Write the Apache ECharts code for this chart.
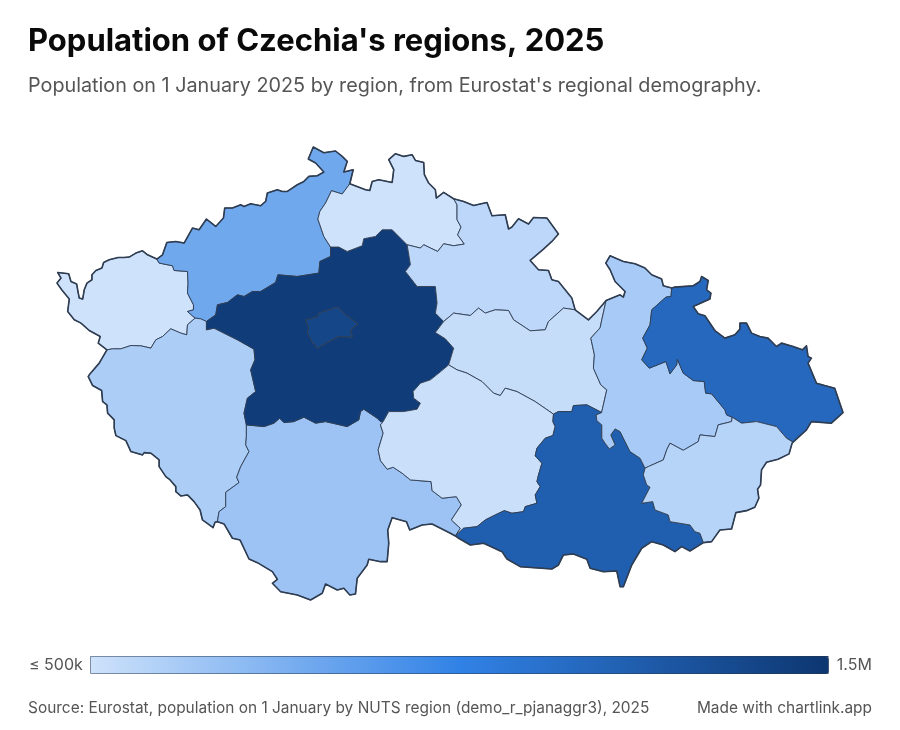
<!DOCTYPE html>
<html><head><meta charset="utf-8">
<style>html,body{margin:0;padding:0;background:#fff}#c{width:900px;height:730px}</style>
<script src="https://cdn.jsdelivr.net/npm/echarts@6/dist/echarts.min.js"></script>
</head><body><div id="c"></div>
<script>
// Data
const regionNames = ["Karlovarský","Ústecký","Plzeňský","Jihočeský","Středočeský","Praha","Liberecký","Královéhradecký","Pardubický","Vysočina","Jihomoravský","Olomoucký","Moravskoslezský","Zlínský"];
const regionValues = [295000,800000,610000,660000,1456000,1398000,449000,556000,527000,516000,1230000,625000,1170000,577000];
const legendLabels = ["1.5M","≤ 500k"];
const scaleMin = 500000, scaleMax = 1500000;
const rampColors = ["#cee2fb","#3182e6","#0d3670"];

// Region borders (shared arcs, trace units)
const kvOuter=[[156,259.3],[146.7,255],[141.7,251],[135,253.3],[128.3,257.3],[123.3,257.7],[117.3,257.7],[108.3,260],[102.7,262.7],[101,268.3],[95,270.7],[91,275],[91,280],[86,283.3],[83.3,290],[81.7,299.3],[78.3,298.3],[76.7,290],[75.7,284.3],[70,281.7],[67.7,274],[56.7,272.7],[60,278.3],[56,283.3],[60.7,290],[68.3,299.3],[66.7,311.7],[73.3,320],[80,323.3],[88.3,330.7],[99.3,336.7],[97.3,343.3],[106,350]];
const kvPl=[[106,350],[111.7,349],[120,349],[130,345.7],[140,346],[150,348.3],[155,340],[161.7,336.7],[170,329],[180,333.3],[186,335],[186.7,325],[194.3,318.3]];
const kvUs=[[156,259.3],[158.3,263.3],[171.7,266],[173.3,270.7],[186.7,271.7],[187.3,283.3],[186.7,293.3],[192.7,305],[192.7,310],[186.7,311.7],[194.3,318.3]];
const usOuter=[[156,259.3],[161.7,255],[166,242.7],[175,241.7],[183.3,243.3],[191.7,228.3],[198.3,230],[205.7,219.3],[215,226.7],[222.7,218.3],[224,208.3],[231.7,208.3],[240,205],[243.3,206.7],[250,204],[260,206],[265,201.7],[266.7,193.3],[276.7,190],[281.7,191.7],[286.7,191.7],[296.7,185],[303.3,181.7],[308.3,176.7],[316.7,176],[323.3,172.3],[315,163.3],[307.7,159.3],[312.7,147.3],[323.3,153],[335,151.3],[341.7,156.7],[346.7,161.7],[343.3,172.3],[352.7,170],[349.3,184]];
const usLi=[[349.3,184],[341.7,194.3],[331,191],[325,203.3],[319.3,211.7],[317.3,219.3],[323.3,236.7],[330,247.3]];
const usCe=[[330,247.3],[330,256.7],[319.3,261.7],[318.3,273.3],[296.7,276.7],[277.3,275],[275,282.7],[260,291.7],[251.7,291.7],[243.3,296.7],[236.7,295],[226.7,302.7],[216.7,305],[215,315],[205.7,321.7]];
const usPl=[[194.3,318.3],[200,319],[205.7,321.7]];
const plCe=[[205.7,321.7],[205.7,330],[213.3,328.3],[223.3,333.3],[236.7,340],[253.3,349.3],[254.3,360],[250,370],[255,391.7],[246.7,398.3],[243.3,413.3],[245.7,425]];
const plSb=[[245.7,425],[245.7,436.7],[245,445],[248.3,451.7],[240,466.7],[236,477.3],[238.3,482.7],[225,492.3],[225,506.7],[218.3,511.7],[216.7,521.7]];
const plOuter=[[106,350],[98.3,363.3],[88.3,375],[87.3,376.7],[91.7,385.7],[100.7,390.7],[101.7,401.7],[106,405],[106.7,413.3],[113.3,420],[113.3,428.3],[115,435.7],[125,440.7],[130,451.7],[141.7,455],[143.3,452.7],[150,453.3],[158.3,460],[158.3,466.7],[165,476.7],[169.3,480],[175,486.7],[175,491.7],[180,496],[186.7,495],[193.3,501.7],[199.3,510],[201.7,520],[212.3,527.7],[214.3,522.3],[216.7,521.7]];
const sbOuter=[[216.7,521.7],[223.3,524],[231.7,538.3],[239.3,540],[248.3,559],[256.7,562.7],[271.7,571.7],[276.7,579.3],[271.7,583.3],[280,591.7],[296.7,595],[310,600],[321.7,593.3],[325,584],[336.7,590],[343.3,588.3],[349.3,595],[355,594],[356.7,578.3],[366.7,565],[368.3,559.3],[380,561.7],[386.7,561.7],[388.3,543.3],[387.3,530],[391.7,517.7],[406,521.7],[409.3,530],[421.7,525],[431.7,524],[450,533.3],[455,536]];
const sbVy=[[455,536],[460,528.3],[451,520],[461,505],[456,496.7],[441.7,498.3],[431.7,490.7],[430.7,481.7],[410,480],[401.7,473.3],[392.7,467.3],[386.7,469.3],[380,460.7],[377.7,450],[382.7,433.3],[380,425],[382.7,421.7]];
const sbCe=[[245.7,425],[263.3,426.7],[273.3,423.3],[279,418.3],[283.3,422.7],[293.3,421.7],[303.3,417.3],[315,423.3],[325,421.7],[346.7,426.7],[358.3,420],[360,411.7],[363.3,409.3],[376.7,418.3],[380,421.7],[382.7,421.7]];
const ceVy=[[382.7,421.7],[388.3,411.7],[403.3,411.7],[416.7,409.3],[420,403.3],[413.3,398.3],[412.7,391.7],[420,383.3],[430,380],[440,372],[448.3,365]];
const cePa=[[448.3,365],[453.3,348.3],[445,339],[435,332.7],[443.3,321.7]];
const ceHr=[[443.3,321.7],[435,313.3],[436.7,303.3],[435,286.7],[416.7,286.7],[405,271.7],[410,265],[406.7,245]];
const ceLi=[[406.7,245],[401.7,240],[391.7,230],[381.7,230],[375,236.7],[363.3,239],[361.7,246],[346.7,251.7],[338.3,247.3],[330,247.3]];
const liHr=[[406.7,245],[420,248.3],[423.3,245],[437.3,251.7],[443.3,244],[453.3,246],[464,244.3],[457.3,235],[460.7,227.3],[456.7,220],[456.7,205],[453.3,199]];
const liOuter=[[349.3,184],[365,190],[369.3,190.7],[371.7,181.7],[378.3,180],[391.7,182.7],[393.3,170],[388.3,160],[395,154],[403.3,156.7],[411.7,155],[415,160.7],[423.3,162.7],[424,175],[428.3,183.3],[435,190],[436,198.3],[443.3,192.7],[453.3,199]];
const hrOuter=[[453.3,199],[463.3,201.7],[473.3,205.7],[486.7,202.7],[491.7,216],[505,215],[508.3,229.3],[511.7,227.3],[518.3,219],[528.3,224.3],[533.3,217.7],[546.7,218.3],[558.3,234.3],[551.7,241.7],[543.3,249.3],[530,260.7],[538.3,270],[548.3,270.7],[551.7,280],[558.3,281.7],[571.7,298.3],[575,310]];
const hrPa=[[443.3,321.7],[453.3,313.3],[470,315.7],[478.3,308.3],[485,313.3],[495,310],[508.3,310.7],[513.3,320],[530,331],[545,330],[548.3,321.7],[563.3,308.3],[575,310]];
const paOuter=[[575,310],[588.3,320],[596.7,311.7],[606,300.7]];
const paOl=[[606,300.7],[601.7,320],[600,328],[590.7,338.3],[594.3,355],[593.3,368.3],[600.7,385],[606.7,390],[601.7,411.7]];
const paVy=[[448.3,365],[456.7,370],[466.7,373.3],[481.7,381.7],[493.3,393.3],[500,395.7],[505,388.3],[516.7,391.7],[535,401.7],[553.3,414.3]];
const paSm=[[553.3,414.3],[558.3,411.7],[571.7,411.7],[573.3,405.7],[586.7,405],[601.7,412.7]];
const olOuter=[[606,300.7],[620,295],[623.3,297.3],[625,291.7],[615,281.7],[610,270],[605.7,263.3],[610,256],[623.3,261.7],[635,264],[645,268.3],[651.7,275],[661.7,279.3],[663.3,286],[671.7,288.3]];
const msOuter=[[671.7,288.3],[675,287.3],[693.3,286],[700,281.7],[701.7,276.7],[708.3,280.7],[706.7,290],[711,293.3],[710,299.3],[693.3,306.7],[698.3,314],[705,316],[715,330.7],[725,338.3],[735,335],[740,329.3],[740,323.3],[746.7,323.3],[751.7,333.3],[760,336.7],[768.3,338.3],[776.7,346.7],[781.7,343.3],[793.3,346.7],[802.7,350],[806.7,346],[808.3,356.7],[811.7,358.3],[808.3,363.3],[816.7,383.3],[825,385.7],[835,388.3],[843.3,412.7],[831.7,423.3],[811.7,421.7],[806.7,430],[793.3,442.3]];
const msOl=[[671.7,288.3],[671,296.7],[666,297.3],[651.7,310],[650,325],[642.7,338.3],[647.3,348.3],[641.7,360],[649.3,368.3],[666,361.7],[670,374],[676.7,365],[677.3,359.3],[683.3,373.3],[693.3,380.7],[704.3,381.7],[705.7,393.3],[711.7,394],[725,410],[726.7,415],[732.3,417.3]];
const msZl=[[732.3,417.3],[741.7,423.3],[756.7,421.7],[776.7,426.7],[786.7,438.3],[793.3,442.3]];
const olSm=[[601.7,412.7],[596,415],[596.7,420.7],[601.7,425],[601.7,438.3],[605,443.3],[609.3,449],[615,445],[610.7,435],[615,429],[620,431.7],[625,441.7],[630,451.7],[640,458.3],[645,468.3]];
const olZl=[[645,468.3],[648.3,466.7],[663.3,460],[666.7,450],[670,443.3],[683.3,450.4],[698.3,441.7],[700,435],[715,436.7],[718.3,425],[731.7,421.7],[732.3,417.3]];
const smVy=[[553.3,414.3],[552.7,421.7],[555,426.7],[552.7,435.7],[545,438.3],[536.7,448.3],[535,456],[541.7,463.3],[538.3,475],[536.7,481.7],[540,486.7],[535,495],[536.7,503.3],[525,506.7],[523.3,511.7],[511.7,513.3],[504,510.7],[495,515],[485,520],[476.7,526.7],[463.3,528.3],[455,536]];
const smOuter=[[455,536],[458.3,538.3],[470,545],[483.3,543.3],[501.7,551.7],[506.7,559],[520,566.7],[551.7,569],[558.3,565],[563.3,555],[573.3,554],[586.7,559.3],[590,568.3],[603.3,571.7],[616.7,571],[620,586.7],[623.3,586.7],[631.7,565],[641.7,548.3],[651.7,541.7],[663.3,545],[675,551.7],[681.7,546.7],[690,551],[703.5,542.7]];
const smZl=[[645,468.3],[643.3,475],[646.7,485],[650,487.3],[641.7,503.3],[652.7,501.7],[655,510],[668.3,515],[670,521.7],[690,525],[695,531.7],[700,533.3],[703.5,542.7]];
const zlOuter=[[703.5,542.7],[711.7,541.7],[720,530],[731.7,529],[736,512.7],[746.7,510.7],[755,507.3],[759,498.3],[757.7,489.3],[760.7,485],[761.7,470],[766.7,462.3],[778.3,459.3],[789.3,454],[792.3,443.3],[793.3,442.3]];
const prague=[[305,320],[316.7,317.3],[318.3,313.3],[336.7,307.3],[345,315],[357.3,324],[350,330],[351.7,337.3],[338.3,336.7],[328.3,341.7],[316.7,348.3],[311.7,341.7],[306.7,333.3],[308.3,328.3],[305,320]];

const rev = a => a.slice().reverse();
const ring = (...arcs) => arcs.flat();
const toGeo = p => [12.09 + (p[0]-57)/116.1, 51.055 - (p[1]-147)/180.8];
const regionRings = {
  "Karlovarský": [ring(kvOuter,kvPl,rev(kvUs))],
  "Ústecký": [ring(usOuter,usLi,usCe,rev(usPl),rev(kvUs))],
  "Plzeňský": [ring(kvPl,usPl,plCe,plSb,rev(plOuter))],
  "Jihočeský": [ring(sbCe,rev(sbVy),rev(sbOuter),rev(plSb))],
  "Středočeský": [ring(usCe,plCe,sbCe,ceVy,cePa,ceHr,ceLi), prague],
  "Praha": [prague],
  "Liberecký": [ring(liOuter,rev(liHr),ceLi,rev(usLi))],
  "Královéhradecký": [ring(hrOuter,rev(hrPa),ceHr,liHr)],
  "Pardubický": [ring(hrPa,paOuter,paOl,rev(paSm),rev(paVy),cePa)],
  "Vysočina": [ring(paVy,smVy,sbVy,ceVy)],
  "Jihomoravský": [ring(paSm,olSm,smZl,rev(smOuter),rev(smVy))],
  "Olomoucký": [ring(olOuter,msOl,rev(olZl),rev(olSm),rev(paOl))],
  "Moravskoslezský": [ring(msOuter,rev(msZl),rev(msOl))],
  "Zlínský": [ring(olZl,msZl,rev(zlOuter),rev(smZl))]
};
const outerBorder = ring(usOuter,liOuter,hrOuter,paOuter,olOuter,msOuter,rev(zlOuter),rev(smOuter),rev(sbOuter),rev(plOuter),rev(kvOuter)).map(toGeo);

const geoJson = {type:"FeatureCollection",features:regionNames.map(n=>({type:"Feature",properties:{name:n},
  geometry:{type:"Polygon",coordinates:regionRings[n].map(r=>r.map(toGeo))}}))};
echarts.registerMap("CZ", geoJson);

const F = 'Inter, "Noto Sans", sans-serif';
const chart = echarts.init(document.getElementById("c"), null, {renderer:"canvas"});
chart.setOption({
  animation:false,
  backgroundColor:"#fff",
  title:[
    {text:"Population of Czechia's regions, 2025",left:28,top:26,padding:0,textStyle:{fontFamily:F,fontSize:31,fontWeight:700,color:"#0a0a0a"}},
    {text:"Population on 1 January 2025 by region, from Eurostat's regional demography.",left:28,top:76,padding:0,textStyle:{fontFamily:F,fontSize:19.8,fontWeight:400,color:"#555"}},
    {text:"Source: Eurostat, population on 1 January by NUTS region (demo_r_pjanaggr3), 2025",left:28,top:701,padding:0,textStyle:{fontFamily:F,fontSize:15.45,fontWeight:400,color:"#555"}},
    {text:"Made with chartlink.app",right:28,top:701,padding:0,textStyle:{fontFamily:F,fontSize:15.45,fontWeight:400,color:"#555"}}
  ],
  geo:{map:"CZ",left:57,top:147,width:786,height:453,aspectScale:0.6423,roam:false,silent:true,
    label:{show:false},
    itemStyle:{borderColor:"#2f3d52",borderWidth:0.9},
    emphasis:{disabled:true}},
  visualMap:{type:"continuous",min:scaleMin,max:scaleMax,orient:"horizontal",left:29,top:657,padding:0,
    itemWidth:17,itemHeight:738,text:legendLabels,textGap:8,calculable:false,realtime:false,
    seriesIndex:0,
    inRange:{color:rampColors},
    textStyle:{fontFamily:F,fontSize:16,color:"#555"}},
  graphic:[
    {type:"rect",shape:{x:90,y:656,width:738,height:17},silent:true,z:-1,
      style:{fill:new echarts.graphic.LinearGradient(0,0,1,0,rampColors.map((c,i)=>({offset:i/(rampColors.length-1),color:c})))}},
    {type:"rect",shape:{x:90.5,y:656.5,width:738,height:17},style:{fill:"none",stroke:"rgba(40,55,80,0.5)",lineWidth:1},silent:true,z:100}
  ],
  series:[
    {type:"map",geoIndex:0,data:regionNames.map((n,i)=>({name:n,value:regionValues[i]}))},
    {type:"lines",coordinateSystem:"geo",polyline:true,silent:true,z:5,
      lineStyle:{color:"#2f3d52",width:1.6,opacity:1,join:"round",cap:"round"},
      data:[{coords:outerBorder}]}
  ]
});
</script></body></html>
